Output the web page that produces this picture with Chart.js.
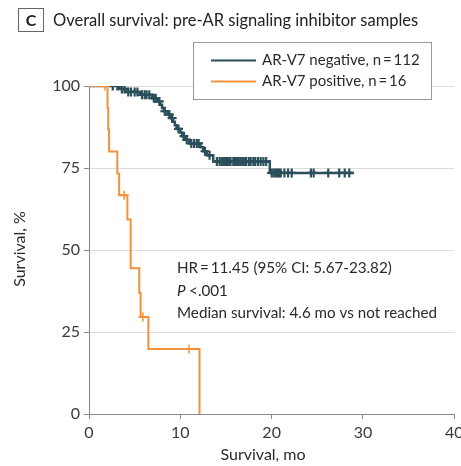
<!DOCTYPE html>
<html>
<head>
<meta charset="utf-8">
<script src="https://cdn.jsdelivr.net/npm/chart.js@4/dist/chart.umd.min.js"></script>
<style>
  html, body { margin: 0; padding: 0; background: #fff; }
  #wrap { width: 461px; height: 466px; }
</style>
</head>
<body>
<div id="wrap"><canvas id="kmChart"></canvas></div>
<script>
// Kaplan-Meier steps: time (mo) and survival (%) after each event
var negTimes = [0, 3.3, 4.0, 5.6, 6.9, 7.5, 7.8, 8.0, 8.2, 8.6, 9.0, 9.2, 9.4, 9.6, 10.0, 10.2, 10.5, 11.0, 12.2, 12.5, 12.9, 13.6, 19.8, 29.0];
var negSurv  = [100, 99.1, 98.2, 97.3, 96.3, 95.3, 94.3, 93.3, 92.3, 91.3, 90.2, 89.1, 88.0, 86.9, 85.8, 84.7, 83.6, 82.5, 81.3, 80.1, 78.9, 77.0, 73.5, 73.5];
var negCensor = [2.6, 3.1, 3.6, 3.9, 4.3, 4.6, 5.0, 5.3, 5.8, 6.1, 6.3, 6.6, 7.1, 7.3, 7.7, 8.3, 8.8, 9.1, 9.8, 10.4, 10.7, 11.2, 11.5, 11.8, 12.0, 12.7, 13.2,
  14.0, 14.3, 14.5, 14.7, 14.9, 15.1, 15.3, 15.5, 15.8, 16.0, 16.2, 16.4, 16.6, 16.8, 17.0, 17.2, 17.5, 17.7, 18.0, 18.2, 18.5, 18.8, 19.1, 19.4,
  20.0, 20.2, 20.4, 20.6, 20.8, 21.0, 21.4, 21.8, 22.2, 24.3, 24.6, 26.2, 27.4, 28.0, 28.5];

var posTimes = [0, 2.03, 2.1, 2.2, 3.1, 3.3, 4.2, 4.56, 5.5, 5.65, 6.5, 12.1];
var posSurv  = [100, 93.3, 86.7, 80.0, 73.3, 66.7, 59.3, 44.4, 37.0, 29.6, 19.8, 0];
var posCensor = [1.75, 3.85, 5.9, 10.95];

var seriesLabels = ['AR-V7 negative, n\u2009=\u2009112', 'AR-V7 positive, n\u2009=\u200916'];
var seriesColors = ['#2b4f5a', '#f3923a'];
var xTicks = [0, 10, 20, 30, 40];
var yTicks = [0, 25, 50, 75, 100];

var panelLetter = 'C';
var panelTitle = 'Overall survival: pre-AR signaling inhibitor samples';
var statLines = ['HR\u2009=\u200911.45 (95% CI: 5.67-23.82)', '<.001', 'Median survival: 4.6 mo vs not reached'];

var FONT = 'Lato, "Open Sans", sans-serif';
var TEXT = '#2a2a2a';

function stepPoints(times, surv) {
  return times.map(function (t, i) { return { x: t, y: surv[i] }; });
}
// censored marks sit on the curve level at their time
function censorPoints(times, surv, cens) {
  return cens.map(function (c) {
    var lvl = surv[0];
    for (var i = 0; i < times.length; i++) { if (times[i] <= c) lvl = surv[i]; }
    return { x: c, y: lvl };
  });
}

var overlay = {
  id: 'overlay',
  afterDraw: function (chart) {
    var ctx = chart.ctx;
    ctx.save();
    // panel letter box and title
    ctx.strokeStyle = '#666';
    ctx.lineWidth = 1;
    ctx.strokeRect(18.5, 8.5, 25, 23);
    ctx.fillStyle = '#222';
    ctx.textBaseline = 'middle';
    ctx.textAlign = 'center';
    ctx.font = 'bold 16px ' + FONT;
    ctx.fillText(panelLetter, 31, 20.5);
    ctx.textAlign = 'left';
    ctx.font = '16.5px ' + FONT;
    ctx.fillText(panelTitle, 53, 21);

    // legend box
    ctx.fillStyle = '#fff';
    ctx.fillRect(193.5, 42.5, 238, 57);
    ctx.strokeStyle = '#999';
    ctx.strokeRect(193.5, 42.5, 238, 57);
    ctx.lineWidth = 2;
    ctx.font = '15px ' + FONT;
    [60.5, 81.5].forEach(function (y, i) {
      ctx.strokeStyle = seriesColors[i];
      ctx.beginPath();
      ctx.moveTo(211, y);
      ctx.lineTo(256, y);
      ctx.stroke();
      ctx.fillStyle = TEXT;
      ctx.fillText(seriesLabels[i], 262, y);
    });

    // statistics
    ctx.fillStyle = TEXT;
    ctx.font = '15.2px ' + FONT;
    ctx.fillText(statLines[0], 177, 268);
    ctx.font = 'italic 15.2px ' + FONT;
    ctx.fillText('P', 177, 291);
    var pw = ctx.measureText('P ').width;
    ctx.font = '15.2px ' + FONT;
    ctx.fillText(statLines[1], 177 + pw, 291);
    ctx.fillText(statLines[2], 177, 313);

    // axis titles
    ctx.font = '16px ' + FONT;
    ctx.textAlign = 'center';
    ctx.fillText('Survival, mo', 263, 455);
    ctx.translate(20, 249);
    ctx.rotate(-Math.PI / 2);
    ctx.fillText('Survival, %', 0, 0);
    ctx.restore();
  }
};

var ctx = document.getElementById('kmChart').getContext('2d');
var kmChart = new Chart(ctx, {
  type: 'line',
  data: {
    datasets: [
      {
        label: seriesLabels[1],
        data: stepPoints(posTimes, posSurv),
        borderColor: seriesColors[1],
        borderWidth: 2,
        stepped: true,
        pointRadius: 0,
        fill: false
      },
      {
        label: seriesLabels[1] + ' censored',
        type: 'scatter',
        data: censorPoints(posTimes, posSurv, posCensor),
        pointStyle: 'cross',
        pointRadius: 4.5,
        borderWidth: 1.5,
        borderColor: seriesColors[1],
        showLine: false
      },
      {
        label: seriesLabels[0],
        data: stepPoints(negTimes, negSurv),
        borderColor: seriesColors[0],
        borderWidth: 2.5,
        stepped: true,
        pointRadius: 0,
        fill: false
      },
      {
        label: seriesLabels[0] + ' censored',
        type: 'scatter',
        data: censorPoints(negTimes, negSurv, negCensor),
        pointStyle: 'cross',
        pointRadius: 4.5,
        borderWidth: 2.2,
        borderColor: seriesColors[0],
        showLine: false
      }
    ]
  },
  options: {
    responsive: true,
    maintainAspectRatio: false,
    animation: false,
    layout: { padding: { left: 0, right: 6, top: 86, bottom: 0 } },
    plugins: {
      legend: { display: false },
      tooltip: { enabled: false }
    },
    scales: {
      x: {
        type: 'linear',
        min: 0,
        max: 40,
        afterBuildTicks: function (scale) {
          scale.ticks = xTicks.map(function (v) { return { value: v }; });
        },
        afterFit: function (scale) {
          scale.height = 52;
          scale.paddingLeft = 0;
          scale.paddingRight = 0;
        },
        grid: { drawOnChartArea: false, tickLength: 5, tickColor: '#888' },
        border: { color: '#888', width: 1 },
        ticks: { color: '#3a3a3a', padding: 4, font: { family: FONT, size: 16 } }
      },
      y: {
        min: 0,
        max: 100,
        afterBuildTicks: function (scale) {
          scale.ticks = yTicks.map(function (v) { return { value: v }; });
        },
        afterFit: function (scale) {
          scale.width = 89;
          scale.paddingTop = 0;
          scale.paddingBottom = 0;
        },
        grid: { color: '#dcdcdc', tickLength: 5, tickColor: '#888' },
        border: { color: '#888', width: 1 },
        ticks: { color: '#3a3a3a', padding: 4, font: { family: FONT, size: 16 } }
      }
    }
  },
  plugins: [overlay]
});
</script>
</body>
</html>
